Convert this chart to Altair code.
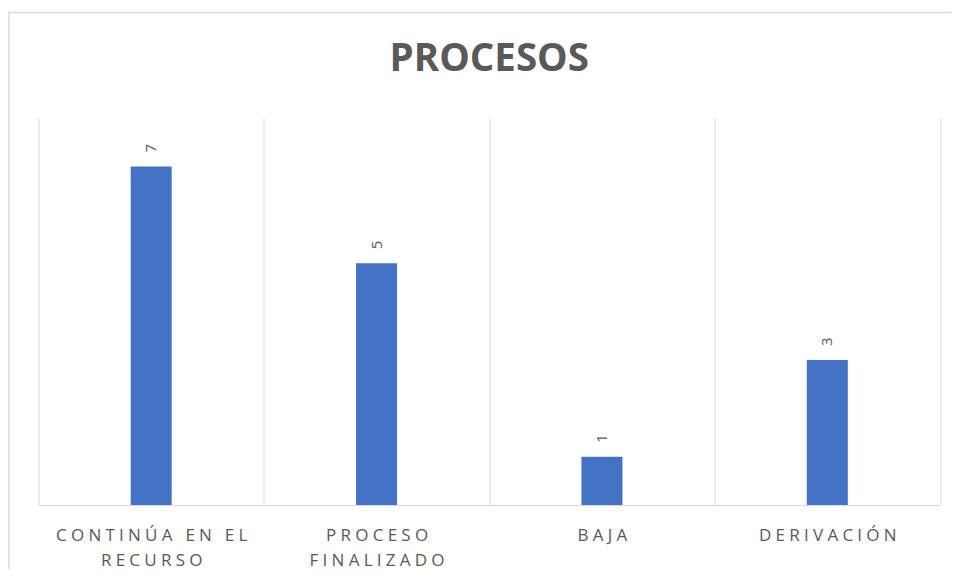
import json
import altair as alt
import pandas as pd

categories = ["CONTINÚA EN EL RECURSO", "PROCESO FINALIZADO", "BAJA", "DERIVACIÓN"]
values = [7, 5, 1, 3]
label_lines = [["CONTINÚA EN EL", "RECURSO"], ["PROCESO", "FINALIZADO"], ["BAJA"], ["DERIVACIÓN"]]
title_text = "PROCESOS"

GAP = "\u2005"


def spaced(s):
    return GAP.join(s)


label_expr = "datum.label"
for cat, lines in reversed(list(zip(categories, label_lines))):
    arr = json.dumps([spaced(l) for l in lines], ensure_ascii=False)
    label_expr = f"datum.value == {json.dumps(cat, ensure_ascii=False)} ? {arr} : ({label_expr})"

df = pd.DataFrame({"category": categories, "value": values})
frame_df = pd.DataFrame({"k": [0]})

GRAY = "#595959"
LINE = "#D9D9D9"

x = alt.X(
    "category:N",
    sort=categories,
    title=None,
    scale=alt.Scale(paddingInner=0, paddingOuter=0),
    axis=alt.Axis(
        labelExpr=label_expr,
        labelAngle=0,
        ticks=False,
        tickBand="extent",
        grid=True,
        gridColor=LINE,
        gridWidth=1,
        domainColor=LINE,
        domainWidth=1,
        labelFont="Open Sans",
        labelFontSize=17,
        labelColor=GRAY,
        labelBaseline="alphabetic",
        labelPadding=35,
        labelLineHeight=25,
        labelLimit=500,
        labelOverlap=False,
    ),
)
y = alt.Y("value:Q", scale=alt.Scale(domain=[0, 8]), axis=None)

base = alt.Chart(df).encode(x=x, y=y)

bars = base.mark_bar(color="#4472C4", width=41)
labels = base.mark_text(
    angle=270,
    align="left",
    baseline="middle",
    yOffset=-14,
    font="Open Sans",
    fontSize=15,
    color=GRAY,
).encode(text="value:Q")

frame = alt.Chart(frame_df).mark_rect(
    fillOpacity=0, stroke=LINE, strokeWidth=1.5
).encode(
    x=alt.value(-29.5), x2=alt.value(940), y=alt.value(-105.5), y2=alt.value(480)
)

chart = (
    alt.layer(frame, bars, labels)
    .properties(
        width=901.5,
        height=387,
        autosize=alt.AutoSizeParams(type="none"),
        padding={"left": 30.5, "top": 110, "right": 11, "bottom": 64},
        title=alt.TitleParams(
            title_text,
            font="Open Sans",
            fontSize=38.5,
            fontWeight="bold",
            color=GRAY,
            anchor="middle",
            frame="group",
            baseline="alphabetic",
            offset=-98,
        ),
    )
    .configure_view(stroke=None)
)

chart.save("out.html", embed_options={"renderer": "svg", "actions": False})
